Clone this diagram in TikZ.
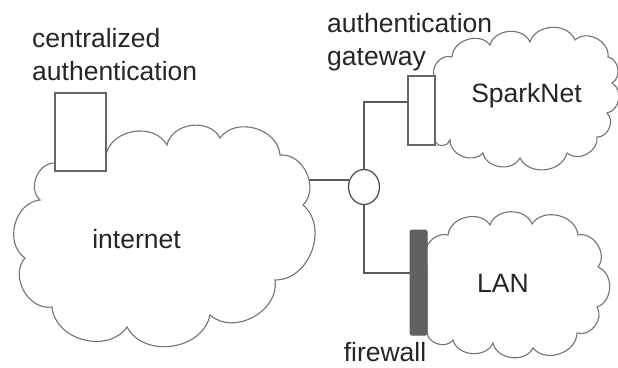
\documentclass[tikz,border=0pt]{standalone}
\usepackage{fontspec}
\setmainfont{Liberation Sans}
\usetikzlibrary{shapes.geometric}
\pgfdeclarelayer{bg}
\pgfdeclarelayer{wires}
\pgfsetlayers{bg,wires,main}
\begin{document}
\begin{tikzpicture}[x=1pt,y=-1pt,
  lbl/.style={font=\fontsize{26.5}{33}\selectfont, text=black!85, inner sep=0pt},
  wire/.style={draw=black!65, line width=1.2pt},
  cloudline/.style={draw=black!55, line width=1.1pt, fill=white},
  cwb/.style={bend left=70, looseness=1.1},
  ccwb/.style={bend right=70, looseness=1.1},
  boxstyle/.style={draw=black!60, line width=1.2pt, fill=white, rectangle, inner sep=0pt},
  hubstyle/.style={draw=black!70, line width=1.2pt, fill=white, ellipse, inner sep=0pt},
  fwstyle/.style={draw=black!62, fill=black!62, line width=1pt, rectangle, rounded corners=1.5pt, inner sep=0pt},
]
\begin{pgfonlayer}{bg}
\fill[white] (0,0) rectangle (618,367);
\end{pgfonlayer}
\useasboundingbox (0,0) rectangle (618,367);

% clouds
\draw[cloudline] (55,163) to[ccwb] (40,200) to[ccwb] (25,258) to[ccwb] (52,307)
  to[ccwb] (127,327) to[ccwb] (210,315) to[ccwb] (275,280) to[ccwb] (303,205)
  to[ccwb] (280,155) to[ccwb] (220,138) to[ccwb] (167,145) to[ccwb] (106,155) -- cycle;
\draw[cloudline] (435,78) to[cwb] (452,57) to[cwb] (490,45) to[cwb] (530,42)
  to[cwb] (575,40) to[cwb] (608,57) to[cwb] (612,83) to[cwb] (607,113)
  to[cwb] (597,137) to[cwb] (567,153) to[cwb] (520,158) to[cwb] (483,153)
  to[cwb] (450,140) to[cwb] (435,142) -- cycle;
\draw[cloudline] (427,265) to[cwb] (448,235) to[cwb] (490,225) to[cwb] (532,224)
  to[cwb] (578,235) to[cwb] (598,267) to[cwb] (597,307) to[cwb] (577,333)
  to[cwb] (533,348) to[cwb] (493,343) to[cwb] (453,340) to[cwb] (427,332) -- cycle;

% devices
\node[boxstyle, minimum width=51pt, minimum height=78pt] (ca) at (80.5,132) {};
\node[boxstyle, minimum width=27pt, minimum height=69pt] (gw) at (421.5,110.5) {};
\node[fwstyle, minimum width=17pt, minimum height=105pt] (fw) at (418.5,282.5) {};
\node[hubstyle, minimum width=31pt, minimum height=35pt] (hub) at (364,187) {};
\coordinate (inetin) at (285,0);

% wires
\begin{pgfonlayer}{wires}
\draw[wire] (hub.155) -- (hub.155 -| inetin);
\end{pgfonlayer}
\draw[wire] (hub.north) |- ([yshift=8.5pt]gw.west);
\draw[wire] (hub.south) |- ([yshift=9.5pt]fw.west);

% labels
\node[lbl, anchor=north west, align=left] (calbl) at (32,28.5) {centralized\\authentication};
\node[lbl, anchor=north west, align=left] (gwlbl) at (327,13) {authentication\\gateway};
\node[lbl, anchor=base] (inetlbl) at (136.5,248) {internet};
\node[lbl, anchor=base] (sparklbl) at (526.5,102) {SparkNet};
\node[lbl, anchor=base] (lanlbl) at (503,292) {LAN};
\node[lbl, anchor=base] (fwlbl) at (385,361) {firewall};
\end{tikzpicture}
\end{document}
